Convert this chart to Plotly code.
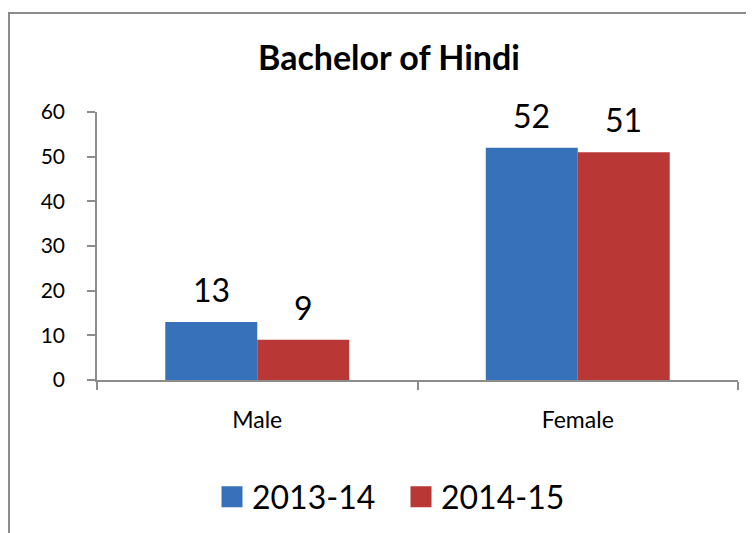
import plotly.graph_objects as go

categories = ["Male", "Female"]
series_names = ["2013-14", "2014-15"]
values_2013 = [13, 52]
values_2014 = [9, 51]
y_ticks = [0, 10, 20, 30, 40, 50, 60]

colors = ["#3771BA", "#B93735"]
FONT = "Lato, 'Open Sans', sans-serif"

# page has an 8px body margin; figure coordinates are page coordinates - 8
W, H = 754, 533
L, T = 89, 104
R = W - 730
B = H - 372
plot_w = W - L - R
plot_h = H - T - B

fig = go.Figure()
for name, vals, col in zip(series_names, [values_2013, values_2014], colors):
    fig.add_trace(go.Bar(
        x=categories, y=vals, name=name, showlegend=False,
        marker=dict(color=col, line=dict(width=0)),
    ))
    # legend entry with a larger square symbol
    fig.add_trace(go.Scatter(
        x=[None], y=[None], mode="markers", name=name, showlegend=True,
        marker=dict(symbol="square", size=16, color=col,
                    line=dict(color=col, width=5)),
    ))

# data labels
cat_w = plot_w / len(categories)
bargap = 0.426
bar_px = cat_w * (1 - bargap) / 2
for i, vals in enumerate([values_2013, values_2014]):
    shift = (i - 0.5) * bar_px
    for c, v in zip(categories, vals):
        fig.add_annotation(x=c, y=v, text=str(v), showarrow=False,
                           xshift=shift, yshift=11, yanchor="bottom",
                           font=dict(family=FONT, size=32, color="#000000"))

axis_col = "#8C8C8C"
fig.add_shape(type="rect", xref="paper", yref="paper",
              x0=(1 - L) / plot_w, x1=(790 - L) / plot_w,
              y0=(H - B - 560) / plot_h, y1=(H - B - 5) / plot_h,
              line=dict(color=axis_col, width=2), fillcolor="rgba(0,0,0,0)",
              layer="below")

fig.update_layout(
    width=W, height=H,
    margin=dict(l=L, r=R, t=T, b=B),
    paper_bgcolor="white", plot_bgcolor="white",
    barmode="group", bargap=bargap, bargroupgap=0,
    title=dict(text="<b>Bachelor of Hindi</b>", x=381 / W, xanchor="center",
               y=1 - 50 / H, yanchor="middle", yref="container",
               font=dict(family=FONT, size=34, color="#000000")),
    font=dict(family=FONT, color="#000000"),
    showlegend=True,
    legend=dict(orientation="h", xref="container", yref="container",
                x=393 / W, xanchor="center", y=1 - 489 / H, yanchor="middle",
                font=dict(family=FONT, size=32, color="#000000"),
                itemwidth=30, traceorder="normal", entrywidth=144),
    xaxis=dict(showline=True, linecolor=axis_col, linewidth=1.5,
               ticks="outside", ticklen=8, tickcolor=axis_col, tickwidth=1.5,
               tickson="boundaries", showgrid=False,
               tickfont=dict(family=FONT, size=23, color="#000000"),
               ticklabelstandoff=19),
    yaxis=dict(range=[0, 60], tickvals=y_ticks, showline=True,
               linecolor=axis_col, linewidth=1.5, ticks="outside", ticklen=8,
               tickcolor=axis_col, tickwidth=1.5, showgrid=False, zeroline=False,
               tickfont=dict(family=FONT, size=21, color="#000000"),
               ticklabelstandoff=18),
)

fig.write_html("out.html")
